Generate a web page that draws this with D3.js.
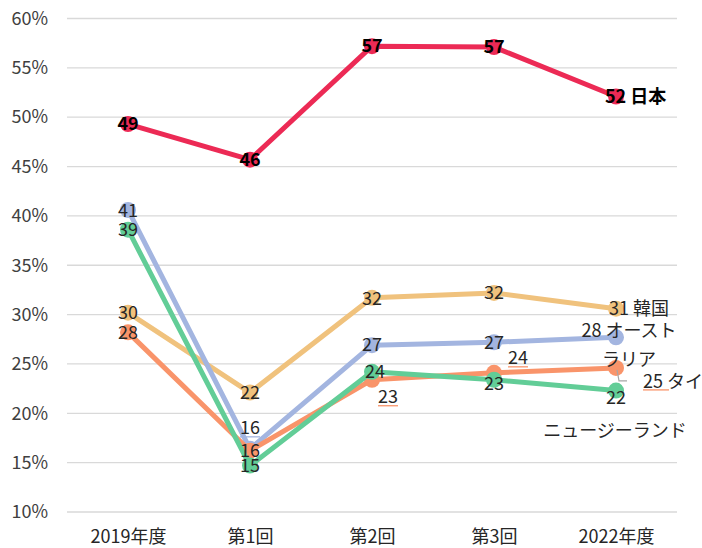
<!DOCTYPE html>
<html>
<head>
<meta charset="utf-8">
<script src="https://cdn.jsdelivr.net/npm/d3@7"></script>
<style>
  body { margin: 0; background: #fff; }
  svg { font-family: "Noto Sans CJK JP", "Noto Sans", sans-serif; }
</style>
</head>
<body>
<div id="chart"></div>
<script>
// data (percent)
const categories = ['2019年度', '第1回', '第2回', '第3回', '2022年度'];
const japan = [49.3, 45.7, 57.2, 57.1, 52.1];
const australia = [40.6, 16.4, 26.9, 27.2, 27.7];
const korea = [30.2, 22.1, 31.7, 32.2, 30.6];
const thailand = [28.2, 16.2, 23.4, 24.1, 24.6];
const newZealand = [38.6, 14.7, 24.2, 23.4, 22.3];
const yTicks = [10, 15, 20, 25, 30, 35, 40, 45, 50, 55, 60];

const width = 702, height = 548;
const margin = { top: 18.5, bottom: 36, left: 67, right: 25 };

const svg = d3.select('#chart')
    .append('svg')
    .attr('width', width)
    .attr('height', height);

let xScale = d3.scalePoint()
    .domain(categories)
    .range([margin.left, width - margin.right])
    .padding(0.5);

let yScale = d3.scaleLinear()
    .domain([10, 60])
    .range([height - margin.bottom, margin.top]);

// gridlines
svg.append('g')
    .selectAll('line')
    .data(yTicks)
    .join('line')
    .attr('x1', margin.left)
    .attr('x2', width - margin.right)
    .attr('y1', d => yScale(d))
    .attr('y2', d => yScale(d))
    .attr('stroke', '#d9d9d9')
    .attr('stroke-width', 1.3);

// y axis labels
svg.append('g')
    .call(d3.axisLeft(yScale).tickValues(yTicks).tickSize(0).tickPadding(0)
        .tickFormat(d => d + '%'))
    .attr('transform', 'translate(48,0)')
    .call(g => g.select('.domain').remove())
    .selectAll('text')
    .attr('font-size', 18)
    .attr('fill', '#404040')
    .attr('font-family', '"Noto Sans CJK JP", sans-serif');

// x axis labels
svg.append('g')
    .attr('transform', 'translate(0,' + (height - margin.bottom) + ')')
    .call(d3.axisBottom(xScale).tickSize(0).tickPadding(18))
    .call(g => g.select('.domain').remove())
    .selectAll('text')
    .attr('font-size', 18)
    .attr('fill', '#262626')
    .attr('font-family', '"Noto Sans CJK JP", sans-serif');

// draw order: bottom first
const series = [
    { name: '韓国', values: korea, color: '#f0c27d' },
    { name: 'オーストラリア', values: australia, color: '#a3b5e0' },
    { name: 'タイ', values: thailand, color: '#f9946a' },
    { name: 'ニュージーランド', values: newZealand, color: '#62cd97' },
    { name: '日本', values: japan, color: '#ec2a55' }
];

let line = d3.line()
    .x((d, i) => xScale(categories[i]))
    .y(d => yScale(d));

series.forEach(s => {
    let g = svg.append('g');
    g.append('path')
        .datum(s.values)
        .attr('d', line)
        .attr('fill', 'none')
        .attr('stroke', s.color)
        .attr('stroke-width', 5)
        .attr('stroke-linejoin', 'round');
    g.selectAll('circle')
        .data(s.values)
        .join('circle')
        .attr('cx', (d, i) => xScale(categories[i]))
        .attr('cy', d => yScale(d))
        .attr('r', 8)
        .attr('fill', s.color);
});

// label offsets from each point [dx, dy]
const labelOffsets = {
    '日本': [[0, 0], [0, 0], [0, 0], [0, 0], [0, 0]],
    'オーストラリア': [[0, 1], [0, -21], [0, 0], [0, 0], [0, 0]],
    '韓国': [[0, 0], [0, 0], [0, 1], [0, 0], [0, 0]],
    'タイ': [[0, 0], [0, 0], [16, 17], [24, -15], [0, 0]],
    'ニュージーランド': [[0, 0], [0, 0], [3, 0], [0, 4], [0, 7]]
};
const underlined = { 'オーストラリア': [1], 'タイ': [2, 3] };

let labels = svg.append('g').attr('font-size', 18);

series.forEach(s => {
    let last = s.values.length - 1;
    s.values.forEach((v, i) => {
        let x = xScale(categories[i]), y = yScale(v);
        let off = labelOffsets[s.name][i];
        let bold = s.name === '日本';
        if (i === last && s.name !== 'ニュージーランド') return;
        let t = labels.append('text')
            .attr('x', x + off[0])
            .attr('y', y + off[1])
            .attr('dy', '0.35em')
            .attr('text-anchor', 'middle')
            .attr('fill', bold ? '#000' : '#262626')
            .attr('font-weight', bold ? 'bold' : 'normal')
            .text(Math.round(v));
        if ((underlined[s.name] || []).includes(i)) {
            let w = t.node().getComputedTextLength();
            labels.append('line')
                .attr('x1', x + off[0] - w / 2).attr('x2', x + off[0] + w / 2)
                .attr('y1', y + off[1] + 9).attr('y2', y + off[1] + 9)
                .attr('stroke', s.color).attr('stroke-width', 1.3);
        }
    });
});

// end labels
function px(s, i) { return xScale(categories[i]); }
function py(s, i) { return yScale(s.values[i]); }
let jp = series[4], au = series[1], kr = series[0], th = series[2], nz = series[3];

labels.append('text')
    .attr('x', px(jp, 4) - 11).attr('y', py(jp, 4)).attr('dy', '0.35em')
    .attr('fill', '#000')
    .call(t => t.append('tspan').attr('font-weight', 'bold').text(Math.round(japan[4])))
    .call(t => t.append('tspan').attr('font-weight', 'bold').text(' 日本'));

labels.append('text')
    .attr('x', px(kr, 4) - 7).attr('y', py(kr, 4)).attr('dy', '0.35em')
    .attr('fill', '#262626')
    .text(Math.round(korea[4]) + ' 韓国');

labels.append('text')
    .attr('x', px(au, 4) + 13).attr('y', py(au, 4) - 7).attr('dy', '0.35em')
    .attr('text-anchor', 'middle').attr('fill', '#262626')
    .text(Math.round(australia[4]) + ' オースト');
labels.append('text')
    .attr('x', px(au, 4) + 13).attr('y', py(au, 4) + 22).attr('dy', '0.35em')
    .attr('text-anchor', 'middle').attr('fill', '#262626')
    .text('ラリア');

let thx = px(th, 4), thy = py(th, 4);
labels.append('polyline')
    .attr('points', [[thx + 1, thy + 2], [thx + 3, thy + 13], [thx + 11, thy + 13]].join(' '))
    .attr('fill', 'none').attr('stroke', '#a6a6a6').attr('stroke-width', 1.2);
let tt = labels.append('text')
    .attr('x', thx + 27).attr('y', thy + 14).attr('dy', '0.35em')
    .attr('fill', '#262626');
let tnum = tt.append('tspan').text(Math.round(thailand[4]));
tt.append('tspan').text(' タイ');
let tw = tnum.node().getComputedTextLength();
labels.append('line')
    .attr('x1', thx + 27).attr('x2', thx + 27 + tw + 6)
    .attr('y1', thy + 22).attr('y2', thy + 22)
    .attr('stroke', th.color).attr('stroke-width', 1.3);

labels.append('text')
    .attr('x', px(nz, 4) - 1).attr('y', py(nz, 4) + 40).attr('dy', '0.35em')
    .attr('text-anchor', 'middle').attr('fill', '#262626')
    .text('ニュージーランド');
</script>
</body>
</html>
